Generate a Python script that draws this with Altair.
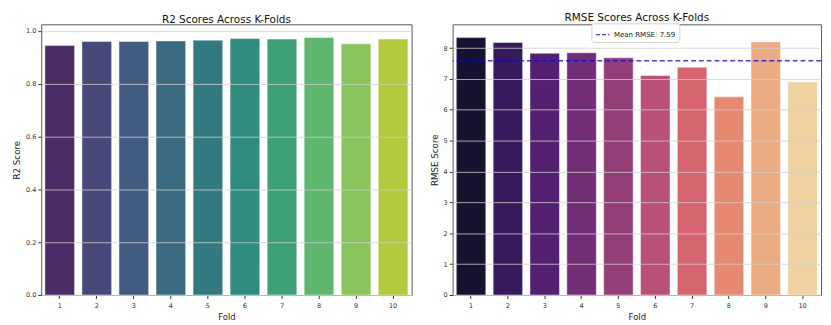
import altair as alt
import pandas as pd

folds = [1, 2, 3, 4, 5, 6, 7, 8, 9, 10]
r2_scores = [0.945, 0.960, 0.960, 0.962, 0.965, 0.971, 0.969, 0.975, 0.951, 0.969]
rmse_scores = [8.34, 8.18, 7.83, 7.85, 7.69, 7.11, 7.38, 6.42, 8.20, 6.90]
viridis_colors = ["#4a2c66", "#48487b", "#425b81", "#3a6b80", "#327a80",
                  "#2f8c7e", "#3da178", "#5fb66f", "#8ac45c", "#b3c93b"]
magma_colors = ["#16122f", "#351b5b", "#542071", "#722e75", "#933e77",
                "#b85077", "#d5646e", "#e58970", "#ebac83", "#f0d1a1"]
mean_rmse = round(sum(rmse_scores) / len(rmse_scores), 2)
mean_label = [f"Mean RMSE: {mean_rmse:.2f}"]

FONT = "DejaVu Sans"
fold_labels = [str(f) for f in folds]

r2_df = pd.DataFrame({"Fold": fold_labels, "R2": r2_scores})
rmse_df = pd.DataFrame({"Fold": fold_labels, "RMSE": rmse_scores})
mean_df = pd.DataFrame({"RMSE": [mean_rmse], "label": mean_label})

xscale = alt.Scale(paddingInner=0.2, paddingOuter=0.1)

def xaxis():
    return alt.Axis(title="Fold", labelAngle=0, labelFontSize=6.7, titleFontSize=8.7,
                    titleFontWeight="normal",
                    labelColor="#333", titleColor="#222", tickColor="#333", tickSize=3.5,
                    domain=False, grid=False, labelPadding=4, titlePadding=4)

def yaxis(title, fmt, values):
    return alt.Axis(title=title, format=fmt, values=values, labelFontSize=6.7, titleFontSize=8.9,
                    titleFontWeight="normal", labelOverlap=False,
                    labelColor="#333", titleColor="#222", tickColor="#333", tickSize=3.5,
                    domain=False, grid=True, gridColor="#cfcfcf", gridWidth=0.8,
                    labelPadding=2, titlePadding=4, zindex=1)

def title(text):
    return alt.TitleParams(text, fontSize=10.7, font=FONT, fontWeight="normal",
                           color="#111", offset=-1)

r2_chart = alt.Chart(r2_df).mark_bar(stroke="white", strokeOpacity=0.45, strokeWidth=1).encode(
    x=alt.X("Fold:N", sort=fold_labels, scale=xscale, axis=xaxis()),
    y=alt.Y("R2:Q", scale=alt.Scale(domain=[0, 1.025], nice=False),
            axis=yaxis("R2 Score", ".1f", [0, 0.2, 0.4, 0.6, 0.8, 1.0])),
    color=alt.Color("Fold:N", sort=fold_labels,
                    scale=alt.Scale(domain=fold_labels, range=viridis_colors), legend=None),
).properties(width=379, height=277, title=title("R2 Scores Across K-Folds"))

rmse_y = alt.Y("RMSE:Q", scale=alt.Scale(domain=[0, 8.77], nice=False),
               axis=yaxis("RMSE Score", "d", [0, 1, 2, 3, 4, 5, 6, 7, 8]))

rmse_bars = alt.Chart(rmse_df).mark_bar(stroke="white", strokeOpacity=0.45, strokeWidth=1).encode(
    x=alt.X("Fold:N", sort=fold_labels, scale=xscale, axis=xaxis()),
    y=rmse_y,
    fill=alt.Fill("Fold:N", sort=fold_labels,
                  scale=alt.Scale(domain=fold_labels, range=magma_colors), legend=None),
)

mean_rule = alt.Chart(mean_df).mark_rule(strokeDash=[5, 3], strokeWidth=1.4, opacity=0.75).encode(
    y=rmse_y,
    color=alt.Color("label:N", scale=alt.Scale(range=["#0000ff"]),
                    legend=alt.Legend(title=None, orient="none", legendX=142, legendY=-1,
                                      symbolType="stroke", symbolStrokeWidth=1.4,
                                      symbolDash=[4, 2], symbolSize=180, labelFontSize=7.2,
                                      labelFont=FONT, labelColor="#222",
                                      fillColor="white", strokeColor="#d0d0d0",
                                      padding=4, cornerRadius=2)),
)

rmse_chart = alt.layer(rmse_bars, mean_rule).resolve_scale(color="independent").properties(
    width=377, height=277, title=title("RMSE Scores Across K-Folds"))

chart = alt.hconcat(r2_chart, rmse_chart, spacing=17).configure(
    font=FONT,
    padding={"left": 4, "top": 0, "right": 0, "bottom": 0},
).configure_view(stroke="#555", strokeWidth=1).configure_axis(labelFont=FONT, titleFont=FONT)

chart.save("out.html", embed_options={"renderer": "svg", "actions": False})
